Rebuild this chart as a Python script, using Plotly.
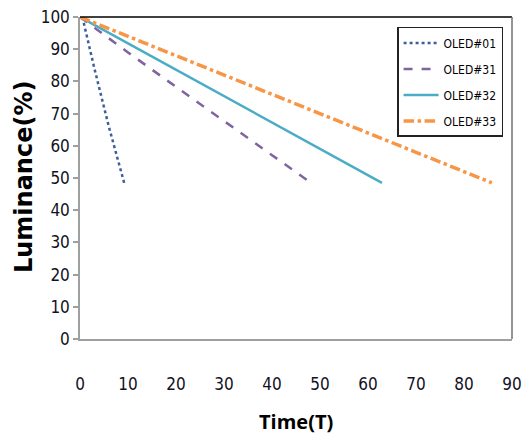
import plotly.graph_objects as go

oled01_x = [0.5, 3, 6, 9.2]
oled01_y = [100, 84, 66, 48.5]
oled31_x = [0, 5, 10, 20, 30, 40, 48.3]
oled31_y = [100, 94.5, 89, 78.3, 67.6, 57, 48.3]
oled32_x = [0, 10, 20, 30, 40, 50, 62.9]
oled32_y = [100, 91.8, 83.6, 75.4, 67.3, 59.1, 48.5]
oled33_x = [0, 10, 20, 30, 40, 50, 60, 70, 80, 85.8]
oled33_y = [100, 94, 88, 82, 76, 70, 64, 58, 52, 48.5]

x_ticks = [0, 10, 20, 30, 40, 50, 60, 70, 80, 90]
y_ticks = [0, 10, 20, 30, 40, 50, 60, 70, 80, 90, 100]

narrow = "DejaVu Sans Condensed, Liberation Sans Narrow, sans-serif"

fig = go.Figure()
fig.add_trace(go.Scatter(x=oled01_x, y=oled01_y, mode="lines", name="OLED#01", legendgroup="a",
                         line=dict(color="#3E5F99", width=2.5, dash="dot")))
fig.add_trace(go.Scatter(x=oled31_x, y=oled31_y, mode="lines", name="OLED#31", legendgroup="b",
                         line=dict(color="#8064A2", width=2.5, dash="dash")))
fig.add_trace(go.Scatter(x=oled32_x, y=oled32_y, mode="lines", name="OLED#32", legendgroup="c",
                         line=dict(color="#4BACC6", width=2.5)))
fig.add_trace(go.Scatter(x=oled33_x, y=oled33_y, mode="lines", name="OLED#33", legendgroup="d",
                         line=dict(color="#F79646", width=3.5, dash="dashdot")))

fig.add_shape(type="line", xref="paper", yref="paper", x0=0, x1=1, y0=1, y1=1,
              line=dict(color="black", width=1.5))
fig.add_shape(type="line", xref="paper", yref="paper", x0=1, x1=1, y0=0, y1=1,
              line=dict(color="#707070", width=1.5))

fig.add_annotation(text="<b>Luminance(%)</b>", xref="paper", yref="paper",
                   x=-0.1296, y=0.503, xanchor="center", yanchor="middle",
                   textangle=-90, showarrow=False,
                   font=dict(family="DejaVu Sans, Verdana, sans-serif", size=24, color="black"))
fig.add_annotation(text="<b>Time(T)</b>", xref="paper", yref="paper",
                   x=0.5, y=-0.2547, xanchor="center", yanchor="middle",
                   showarrow=False,
                   font=dict(family="Open Sans, sans-serif", size=20, color="black"))

fig.update_layout(
    width=522, height=432,
    margin=dict(l=72, r=18, t=9, b=101),
    paper_bgcolor="white", plot_bgcolor="white",
    showlegend=True,
    legend=dict(x=0.734, y=0.969, xanchor="left", yanchor="top",
                bordercolor="#222222", borderwidth=1.5, bgcolor="white",
                font=dict(family=narrow, size=12, color="black"),
                tracegroupgap=7, itemwidth=35),
    xaxis=dict(range=[0, 90], tickvals=x_ticks, showgrid=False, zeroline=False,
               showline=True, linecolor="#A0A0A0", linewidth=1.5,
               ticks="", ticklabelstandoff=29, automargin=False,
               ticklabeloverflow="allow",
               tickfont=dict(family=narrow, size=17, color="#111122")),
    yaxis=dict(range=[0, 100], tickvals=y_ticks, showgrid=False, zeroline=False,
               showline=True, linecolor="#A0A0A0", linewidth=1.5,
               ticks="outside", ticklen=5, tickcolor="#A0A0A0", tickwidth=1.5,
               automargin=False, ticklabeloverflow="allow",
               tickfont=dict(family=narrow, size=17, color="#111122")),
)

fig.write_html("out.html")
